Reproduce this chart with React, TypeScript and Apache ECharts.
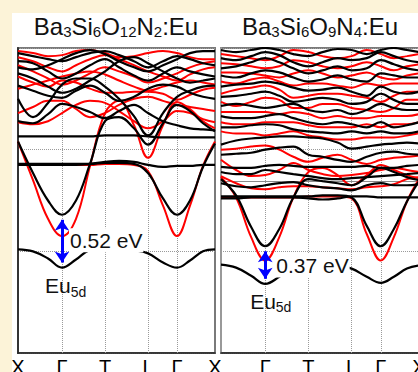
import React, { useEffect, useRef } from 'react';
import * as echarts from 'echarts';

// k-path sample positions (path length units) and high-symmetry points
const kPath = [0, 15, 30, 44, 58, 72, 87, 101, 116, 130, 145, 159, 172, 185, 197];
const kPoints = [0, 44, 87, 130, 159, 197];
const kLabels = ['X', 'Γ', 'T', 'L', 'Γ', 'X'];

// ---------- Left panel: Ba3Si6O12N2:Eu (energies in eV) ----------
const lEu = [0.02, 0.0, -0.07, -0.16, -0.08, 0.01, 0.02, 0.02, 0.01, -0.02, -0.11, -0.16, -0.09, 0.0, 0.02];
const lCb1 = [1.08, 0.77, 0.5, 0.36, 0.5, 0.86, 1.28, 1.32, 1.21, 1.05, 1.26, 1.44, 1.38, 1.26, 1.18];
const lCb2 = [0.86, 0.86, 0.86, 0.86, 0.86, 0.86, 0.87, 0.87, 0.86, 0.77, 0.52, 0.36, 0.5, 0.83, 1.06];
const lFlatLow = [0.85, 0.85, 0.85, 0.85, 0.85, 0.86, 0.88, 0.89, 0.88, 0.85, 0.83, 0.84, 0.84, 0.85, 0.85];
const lFlatMid = [1.13, 1.13, 1.13, 1.13, 1.13, 1.13, 1.14, 1.14, 1.14, 1.13, 1.12, 1.12, 1.12, 1.12, 1.12];
const lB6 = [1.5, 1.32, 1.46, 1.64, 1.7, 1.7, 1.62, 1.5, 1.33, 1.14, 1.36, 1.52, 1.58, 1.62, 1.63];
const lB7 = [1.28, 1.26, 1.35, 1.45, 1.42, 1.37, 1.31, 1.38, 1.44, 1.36, 1.28, 1.24, 1.21, 1.2, 1.19];
const lB8 = [1.87, 1.85, 1.77, 1.7, 1.75, 1.83, 1.89, 1.81, 1.73, 1.68, 1.75, 1.81, 1.77, 1.74, 1.72];
const lB9 = [1.75, 1.7, 1.62, 1.56, 1.6, 1.68, 1.77, 1.87, 1.91, 1.85, 1.77, 1.7, 1.66, 1.68, 1.7];
const lB10 = [1.95, 1.92, 1.89, 1.87, 1.91, 1.95, 1.97, 1.93, 1.87, 1.81, 1.87, 1.92, 1.89, 1.85, 1.83];
const lB11 = [1.63, 1.58, 1.53, 1.51, 1.58, 1.63, 1.56, 1.48, 1.52, 1.6, 1.64, 1.62, 1.56, 1.52, 1.5];
const lB12 = [1.81, 1.79, 1.83, 1.89, 1.95, 1.98, 1.94, 1.87, 1.81, 1.77, 1.83, 1.89, 1.95, 1.97, 1.97];

const lrCb1 = [1.08, 0.7, 0.32, 0.15, 0.32, 0.84, 1.36, 1.48, 1.24, 0.92, 1.24, 1.47, 1.4, 1.28, 1.21];
const lrCb2 = [0.85, 0.85, 0.85, 0.85, 0.85, 0.85, 0.86, 0.86, 0.85, 0.79, 0.45, 0.15, 0.45, 0.84, 1.08];
const lr3 = [1.72, 1.66, 1.62, 1.68, 1.66, 1.6, 1.56, 1.56, 1.57, 1.57, 1.55, 1.49, 1.54, 1.59, 1.61];
const lr4 = [1.36, 1.42, 1.48, 1.48, 1.4, 1.32, 1.36, 1.44, 1.5, 1.52, 1.48, 1.44, 1.42, 1.4, 1.38];
const lr5 = [1.27, 1.25, 1.28, 1.36, 1.44, 1.48, 1.46, 1.38, 1.28, 1.21, 1.28, 1.38, 1.36, 1.3, 1.27];
const lr6 = [1.91, 1.87, 1.81, 1.77, 1.83, 1.89, 1.93, 1.89, 1.83, 1.77, 1.72, 1.68, 1.74, 1.79, 1.81];
const lr7 = [1.83, 1.77, 1.7, 1.64, 1.68, 1.75, 1.81, 1.77, 1.72, 1.66, 1.7, 1.75, 1.81, 1.85, 1.87];
const lr8 = [1.6, 1.64, 1.68, 1.72, 1.75, 1.77, 1.74, 1.68, 1.62, 1.58, 1.62, 1.66, 1.68, 1.66, 1.64];
const lr9 = [1.97, 1.95, 1.92, 1.93, 1.97, 1.98, 1.95, 1.91, 1.92, 1.95, 1.97, 1.95, 1.91, 1.89, 1.89];

// ---------- Right panel: Ba3Si6O9N4:Eu (energies in eV) ----------
const rEu = [-0.13, -0.16, -0.24, -0.32, -0.25, -0.15, -0.13, -0.13, -0.14, -0.17, -0.25, -0.31, -0.25, -0.17, -0.14];
const rCb1 = [0.71, 0.55, 0.24, 0.05, 0.22, 0.53, 0.71, 0.69, 0.67, 0.65, 0.73, 0.82, 0.78, 0.73, 0.7];
const rCb2 = [0.54, 0.54, 0.54, 0.54, 0.54, 0.54, 0.54, 0.55, 0.55, 0.53, 0.25, 0.05, 0.22, 0.49, 0.69];
const rFlat = [0.52, 0.52, 0.53, 0.53, 0.53, 0.53, 0.52, 0.51, 0.52, 0.54, 0.54, 0.53, 0.53, 0.53, 0.53];
const rB5 = [1.05, 1.09, 1.11, 1.12, 1.13, 1.13, 1.12, 1.11, 1.07, 1.01, 1.03, 1.05, 1.06, 1.07, 1.06];
const rB6 = [0.95, 0.96, 0.97, 1.0, 1.02, 1.03, 0.95, 0.93, 0.9, 0.88, 0.93, 0.97, 0.98, 0.96, 0.95];
const rB7 = [0.83, 0.82, 0.82, 0.84, 0.85, 0.84, 0.83, 0.83, 0.83, 0.83, 0.84, 0.82, 0.82, 0.84, 0.85];
const rB8 = [0.78, 0.76, 0.76, 0.8, 0.78, 0.76, 0.74, 0.72, 0.71, 0.72, 0.73, 0.74, 0.75, 0.76, 0.77];
const rB9 = [0.67, 0.64, 0.63, 0.65, 0.67, 0.68, 0.65, 0.63, 0.62, 0.6, 0.65, 0.67, 0.65, 0.65, 0.66];
const rB10 = [1.98, 1.96, 1.98, 2.0, 1.98, 1.94, 1.92, 1.96, 1.99, 1.98, 1.94, 1.98, 2.0, 1.98, 1.96];
const rB11 = [1.9, 1.88, 1.92, 1.96, 1.93, 1.86, 1.82, 1.86, 1.9, 1.88, 1.9, 1.96, 1.92, 1.88, 1.86];
const rB12 = [1.8, 1.82, 1.86, 1.9, 1.86, 1.8, 1.75, 1.78, 1.82, 1.78, 1.8, 1.88, 1.84, 1.8, 1.78];
const rB13 = [1.73, 1.71, 1.75, 1.78, 1.76, 1.71, 1.67, 1.69, 1.73, 1.69, 1.67, 1.75, 1.73, 1.71, 1.71];
const rB14 = [1.62, 1.64, 1.65, 1.67, 1.65, 1.61, 1.58, 1.59, 1.61, 1.57, 1.53, 1.62, 1.57, 1.55, 1.57];
const rB15 = [1.52, 1.53, 1.55, 1.57, 1.53, 1.47, 1.49, 1.51, 1.49, 1.45, 1.47, 1.55, 1.49, 1.45, 1.45];
const rB16 = [1.43, 1.45, 1.43, 1.41, 1.43, 1.45, 1.39, 1.37, 1.39, 1.35, 1.39, 1.45, 1.41, 1.39, 1.39];
const rB17 = [1.33, 1.31, 1.31, 1.33, 1.35, 1.31, 1.27, 1.25, 1.27, 1.25, 1.22, 1.27, 1.22, 1.24, 1.27];
const rB18 = [1.22, 1.22, 1.24, 1.25, 1.24, 1.2, 1.18, 1.17, 1.16, 1.18, 1.16, 1.18, 1.16, 1.16, 1.18];

const rrCb1 = [0.73, 0.53, 0.14, -0.09, 0.14, 0.53, 0.78, 0.82, 0.75, 0.65, 0.75, 0.85, 0.8, 0.75, 0.72];
const rrCb2 = [0.53, 0.53, 0.53, 0.53, 0.53, 0.53, 0.54, 0.54, 0.54, 0.52, 0.17, -0.09, 0.14, 0.49, 0.71];
const rr3 = [0.9, 0.8, 0.74, 0.75, 0.8, 0.87, 0.8, 0.76, 0.74, 0.75, 0.77, 0.8, 0.82, 0.8, 0.78];
const rr4 = [0.74, 0.67, 0.62, 0.61, 0.63, 0.64, 0.64, 0.63, 0.62, 0.61, 0.63, 0.64, 0.66, 0.71, 0.73];
const rr5 = [1.0, 1.01, 1.03, 1.04, 1.0, 0.93, 0.88, 0.92, 0.95, 0.9, 0.86, 0.9, 0.92, 0.93, 0.94];
const rr6 = [1.94, 1.92, 1.9, 1.88, 1.92, 1.98, 1.96, 1.92, 1.9, 1.92, 1.98, 1.94, 1.9, 1.92, 1.94];
const rr7 = [1.85, 1.84, 1.82, 1.8, 1.82, 1.88, 1.86, 1.82, 1.8, 1.82, 1.86, 1.82, 1.78, 1.82, 1.84];
const rr8 = [1.76, 1.76, 1.75, 1.73, 1.71, 1.75, 1.78, 1.75, 1.71, 1.73, 1.76, 1.71, 1.69, 1.73, 1.75];
const rr9 = [1.67, 1.65, 1.69, 1.71, 1.67, 1.63, 1.65, 1.65, 1.63, 1.61, 1.65, 1.63, 1.65, 1.65, 1.65];
const rr10 = [1.55, 1.59, 1.61, 1.63, 1.59, 1.51, 1.53, 1.55, 1.55, 1.53, 1.51, 1.47, 1.53, 1.57, 1.57];
const rr11 = [1.47, 1.43, 1.47, 1.51, 1.49, 1.41, 1.41, 1.45, 1.45, 1.41, 1.39, 1.37, 1.41, 1.49, 1.49];
const rr12 = [1.37, 1.37, 1.37, 1.37, 1.35, 1.37, 1.35, 1.31, 1.33, 1.31, 1.31, 1.33, 1.33, 1.33, 1.35];
const rr13 = [1.27, 1.25, 1.25, 1.27, 1.27, 1.27, 1.24, 1.22, 1.22, 1.22, 1.25, 1.22, 1.25, 1.25, 1.27];
const rr14 = [1.18, 1.16, 1.16, 1.14, 1.16, 1.18, 1.14, 1.12, 1.1, 1.1, 1.12, 1.12, 1.12, 1.14, 1.16];

const rightRefLevel = 0.69;

const leftBlack = [lEu, lCb1, lCb2, lFlatLow, lFlatMid, lB6, lB7, lB8, lB9, lB10, lB11, lB12];
const leftRed = [lrCb1, lrCb2, lr3, lr4, lr5, lr6, lr7, lr8, lr9];
const rightBlack = [rEu, rCb1, rCb2, rFlat, rB5, rB6, rB7, rB8, rB9, rB10, rB11, rB12, rB13, rB14, rB15, rB16, rB17, rB18];
const rightRed = [rrCb1, rrCb2, rr3, rr4, rr5, rr6, rr7, rr8, rr9, rr10, rr11, rr12, rr13, rr14];

const gapTexts = ['0.52 eV', '0.37 eV'];
const FONT = '"Liberation Sans", Arial, Helvetica, sans-serif';

export default function App() {
  const ref = useRef<HTMLDivElement>(null);
  useEffect(() => {
    if (!ref.current) return;
    const chart = echarts.init(ref.current, undefined, { renderer: 'svg' });

    const bandSeries = (bands: number[][], color: string, width: number, p: number, z: number) =>
      bands.map((b) => ({
        type: 'line',
        xAxisIndex: p,
        yAxisIndex: p,
        data: kPath.map((k, i) => [k, b[i]]),
        smooth: 0.4,
        symbol: 'none',
        silent: true,
        z,
        lineStyle: { color, width },
      }));

    const guideSeries = (p: number, eu: number[], extra: any[]) => ({
      type: 'line',
      xAxisIndex: p,
      yAxisIndex: p,
      data: kPath.map((k, i) => [k, eu[i]]),
      symbol: 'none',
      silent: true,
      z: 1,
      lineStyle: { opacity: 0 },
      markLine: {
        silent: true,
        symbol: 'none',
        z: 1,
        label: { show: false },
        lineStyle: { type: 'dotted', color: '#9a9a9a', width: 1 },
        data: [...kPoints.slice(1, -1).map((v) => ({ xAxis: v })), ...extra],
      },
    });

    const annotSeries = (p: number, eu: number[], cb: number[], gapText: string, gapPos: number[], euPos: number[]) => {
      const euMin = Math.min(...eu);
      const cbMin = Math.min(...cb);
      return {
        type: 'line',
        xAxisIndex: p,
        yAxisIndex: p,
        data: kPath.map((k, i) => [k, eu[i]]),
        symbol: 'none',
        silent: true,
        z: 8,
        lineStyle: { opacity: 0 },
        markLine: {
          silent: true,
          z: 9,
          symbol: ['arrow', 'arrow'],
          symbolSize: [11, 11],
          label: { show: false },
          lineStyle: { type: 'solid', color: '#0000ff', width: 3 },
          data: [[{ coord: [kPoints[1], euMin + 0.05] }, { coord: [kPoints[1], cbMin - 0.05] }]],
        },
        markPoint: {
          silent: true,
          z: 10,
          symbol: 'rect',
          symbolSize: 0,
          data: [
            {
              coord: gapPos,
              label: {
                show: true,
                position: 'right',
                distance: 0,
                formatter: gapText,
                color: '#111',
                fontSize: 21,
                fontFamily: FONT,
                backgroundColor: '#ffffff',
                padding: [2, 1, 1, 1],
              },
            },
            {
              coord: euPos,
              label: {
                show: true,
                position: 'right',
                distance: 0,
                formatter: '{m|Eu}{s|5d}',
                rich: {
                  m: { fontSize: 21, lineHeight: 26, fontFamily: FONT, color: '#111' },
                  s: { fontSize: 14, lineHeight: 16, verticalAlign: 'bottom', fontFamily: FONT, color: '#111' },
                },
              },
            },
          ],
        },
      };
    };

    const grids = [
      { left: 6, top: 35, width: 197, height: 305 },
      { left: 209, top: 35, width: 198, height: 305 },
    ];

    const xAxes = [0, 1].map((p) => ({
      gridIndex: p,
      type: 'value',
      min: 0,
      max: 197,
      axisLine: { show: true, onZero: false, lineStyle: { color: '#222', width: 1.5 } },
      axisTick: { show: false },
      splitLine: { show: false },
      axisLabel: {
        customValues: p === 0 ? kPoints : kPoints.slice(1),
        formatter: (v: number) => kLabels[kPoints.indexOf(v)] ?? '',
        fontSize: 20,
        color: '#000',
        margin: 4,
        fontFamily: FONT,
      },
    }));

    const yAxes = [0, 1].map((p) => ({
      gridIndex: p,
      type: 'value',
      min: -1,
      max: 2,
      interval: 1,
      axisLabel: { show: false },
      axisTick: { show: false },
      axisLine: { show: true, onZero: false, lineStyle: { color: p === 0 ? '#333' : '#999', width: 2 } },
      splitLine: { show: true, lineStyle: { type: 'dotted', color: '#9a9a9a', width: 1 } },
    }));

    const titleRich = {
      m: { fontSize: 24, lineHeight: 26, fontFamily: FONT, fill: '#111' },
      s: { fontSize: 15, lineHeight: 13, verticalAlign: 'bottom', fontFamily: FONT, fill: '#111' },
    };

    chart.setOption({
      animation: false,
      grid: grids.map((g) => ({
        ...g,
        show: true,
        containLabel: false,
        outerBoundsMode: 'none',
        borderColor: '#7a7a7a',
        borderWidth: 2,
        backgroundColor: 'transparent',
      })),
      xAxis: xAxes,
      yAxis: yAxes,
      graphic: [
        {
          type: 'text',
          x: 104,
          y: 13,
          style: {
            text: '{m|Ba}{s|3}{m|Si}{s|6}{m|O}{s|12}{m|N}{s|2}{m|:Eu}',
            rich: titleRich,
            align: 'center',
            verticalAlign: 'middle',
          },
        },
        {
          type: 'text',
          x: 308,
          y: 13,
          style: {
            text: '{m|Ba}{s|3}{m|Si}{s|6}{m|O}{s|9}{m|N}{s|4}{m|:Eu}',
            rich: titleRich,
            align: 'center',
            verticalAlign: 'middle',
          },
        },
      ],
      series: [
        guideSeries(0, lEu, []),
        guideSeries(1, rEu, [{ yAxis: rightRefLevel, lineStyle: { type: 'solid', color: '#8a8a8a', width: 1.2 } }]),
        ...bandSeries(leftRed, '#ff0000', 2, 0, 3),
        ...bandSeries(leftBlack, '#000000', 2.2, 0, 4),
        ...bandSeries(rightRed, '#ff0000', 2, 1, 3),
        ...bandSeries(rightBlack, '#000000', 2.2, 1, 4),
        annotSeries(0, lEu, lCb1, gapTexts[0], [51, 0.11], [27, -0.34]),
        annotSeries(1, rEu, rCb1, gapTexts[1], [54, -0.14], [29, -0.49]),
      ],
    });
    return () => chart.dispose();
  }, []);

  return (
    <div style={{ position: 'absolute', left: 0, top: 0, width: 418, height: 372, background: '#fcf3d8', overflow: 'hidden' }}>
      <div
        ref={ref}
        style={{ position: 'absolute', left: 12, top: 13, width: 406, height: 359, background: '#ffffff' }}
      />
    </div>
  );
}
